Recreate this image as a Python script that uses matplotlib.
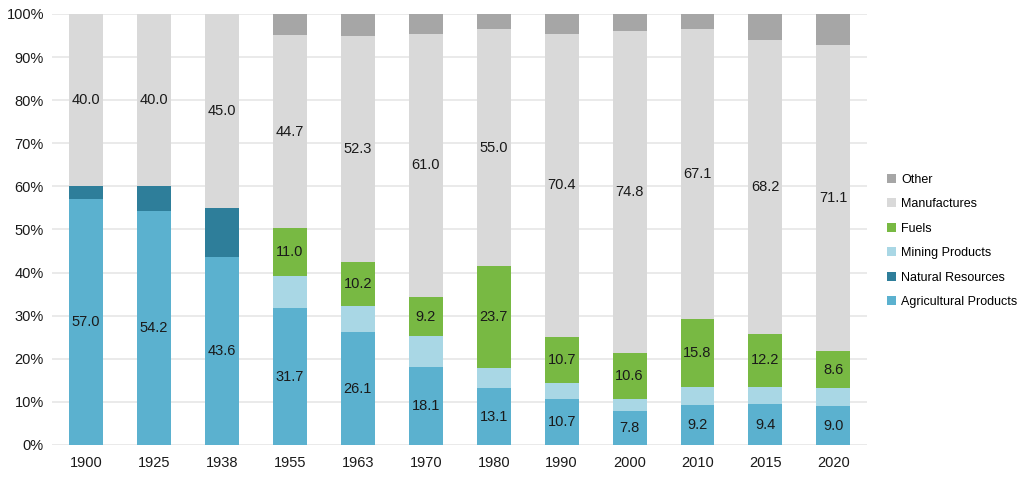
import matplotlib
matplotlib.use("Agg")
import matplotlib.pyplot as plt
import numpy as np

plt.rcParams['font.family'] = ['Liberation Sans', 'DejaVu Sans']

years = ['1900', '1925', '1938', '1955', '1963', '1970', '1980', '1990', '2000', '2010', '2015', '2020']
agricultural = [57.0, 54.2, 43.6, 31.7, 26.1, 18.1, 13.1, 10.7, 7.8, 9.2, 9.4, 9.0]
natural = [3.0, 5.8, 11.4, 0, 0, 0, 0, 0, 0, 0, 0, 0]
mining = [0, 0, 0, 7.6, 6.2, 7.1, 4.7, 3.6, 2.9, 4.3, 4.1, 4.1]
fuels = [0, 0, 0, 11.0, 10.2, 9.2, 23.7, 10.7, 10.6, 15.8, 12.2, 8.6]
manufactures = [40.0, 40.0, 45.0, 44.7, 52.3, 61.0, 55.0, 70.4, 74.8, 67.1, 68.2, 71.1]
other = [0, 0, 0, 5.0, 5.2, 4.6, 3.5, 4.6, 3.9, 3.6, 6.1, 7.2]

series = [
    ('Agricultural Products', agricultural, '#5BB1CF', True),
    ('Natural Resources', natural, '#2E7E9A', False),
    ('Mining Products', mining, '#A9D7E5', False),
    ('Fuels', fuels, '#78B943', True),
    ('Manufactures', manufactures, '#D9D9D9', True),
    ('Other', other, '#A6A6A6', False),
]

fig = plt.figure(figsize=(10.24, 4.8), dpi=100)
ax = fig.add_axes([0.051, 0.073, 0.796, 0.898])

x = np.arange(len(years))
bottom = np.zeros(len(years))
for name, vals, color, labelled in series:
    vals = np.array(vals)
    bars = ax.bar(x, vals, 0.5, bottom=bottom, color=color, label=name, zorder=2)
    if labelled:
        labs = ['%.1f' % v if v > 0 else '' for v in vals]
        ax.bar_label(bars, labels=labs, label_type='center', fontsize=10.5, color='#1a1a1a')
    bottom += vals

ax.set_xlim(-0.5, len(years) - 0.5)
ax.set_ylim(0, 100)
ax.set_xticks(x)
ax.set_xticklabels(years)
ax.set_yticks(np.arange(0, 101, 10))
ax.set_yticklabels(['%d%%' % v for v in range(0, 101, 10)])
ax.tick_params(length=0, labelsize=10.5, colors='#1a1a1a')
ax.tick_params(axis='x', pad=8)
ax.tick_params(axis='y', pad=6)
ax.yaxis.grid(True, color='#E6E6E6', linewidth=1.2, zorder=0)
ax.set_axisbelow(True)
for s in ax.spines.values():
    s.set_visible(False)

h, l = ax.get_legend_handles_labels()
fig.legend(h[::-1], l[::-1], loc='center left', bbox_to_anchor=(0.855, 0.498),
           frameon=False, fontsize=9, handlelength=0.75, handleheight=0.75,
           handletextpad=0.4, labelspacing=1.0)

fig.savefig('out.png', dpi=100)
